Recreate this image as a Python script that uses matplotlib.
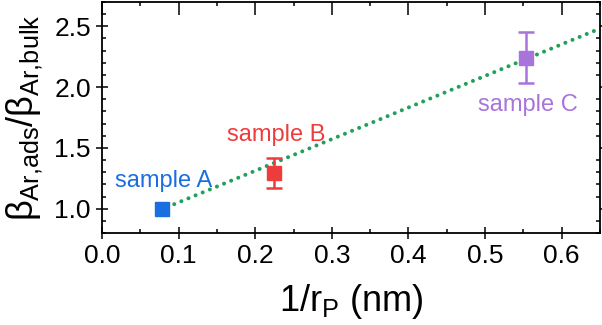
import numpy as np
import matplotlib
matplotlib.use('Agg')
import matplotlib.pyplot as plt
from matplotlib.ticker import MultipleLocator

plt.rcParams['font.family'] = ['Liberation Sans', 'DejaVu Sans']
plt.rcParams['mathtext.fontset'] = 'custom'
plt.rcParams['mathtext.rm'] = 'Liberation Sans'
plt.rcParams['mathtext.it'] = 'Liberation Sans'

samples = ['sample A', 'sample B', 'sample C']
inv_rp = [0.078, 0.225, 0.553]
beta_ratio = [1.00, 1.295, 2.24]
beta_err = [0.0, 0.125, 0.21]
colors = ['#1a6ee0', '#ee3b3b', '#a873db']

# linear fit: y = fit_a + fit_b * x
fit_a, fit_b = 0.792, 2.6
fit_x = [0.085, 0.65]

label_pos = [(0.081, 1.23), (0.227, 1.61), (0.556, 1.85)]

fig = plt.figure(figsize=(6.02, 3.25), dpi=100)
ax = fig.add_axes([102 / 602, 92 / 325, 498 / 602, 231 / 325])

fx = np.array(fit_x)
ax.plot(fx, fit_a + fit_b * fx, ls=(0, (0.01, 1.9)), color='#22a05a', lw=2.9,
        dash_capstyle='round', zorder=1)

for x, y, e, c, s, (lx, ly) in zip(inv_rp, beta_ratio, beta_err, colors, samples, label_pos):
    if e > 0:
        ax.errorbar(x, y, yerr=e, fmt='none', ecolor=c, elinewidth=1.8,
                    capsize=6, capthick=1.8, zorder=2)
    ax.plot(x, y, 's', color=c, ms=10, mec=c, zorder=3)
    ax.text(lx, ly, s, color=c, fontsize=17, ha='center', va='center')

ax.set_xlim(0, 0.65)
ax.set_ylim(0.8, 2.7)
ax.xaxis.set_major_locator(MultipleLocator(0.1))
ax.xaxis.set_minor_locator(MultipleLocator(0.05))
ax.yaxis.set_major_locator(MultipleLocator(0.5))
ax.yaxis.set_minor_locator(MultipleLocator(0.1))
ax.tick_params(which='both', direction='in', top=True, right=True, labelsize=19, width=1.1)
ax.tick_params(which='major', length=5)
ax.tick_params(which='minor', length=3)
ax.tick_params(which='major', left=True, bottom=True, direction='inout', length=9,
               labelleft=True, labelbottom=True)
# keep top/right major ticks inward
for t in ax.xaxis.get_major_ticks():
    t.tick2line.set_marker(3)
for t in ax.yaxis.get_major_ticks():
    t.tick2line.set_marker(1)
for sp in ax.spines.values():
    sp.set_linewidth(1.3)

ax.set_xlabel(r'1/r$_\mathregular{P}$ (nm)', fontsize=26, labelpad=10)
ax.set_ylabel(r'$\beta_\mathregular{Ar{,}ads}/\beta_\mathregular{Ar{,}bulk}$', fontsize=26, labelpad=7)

fig.savefig('out.png', dpi=100)
